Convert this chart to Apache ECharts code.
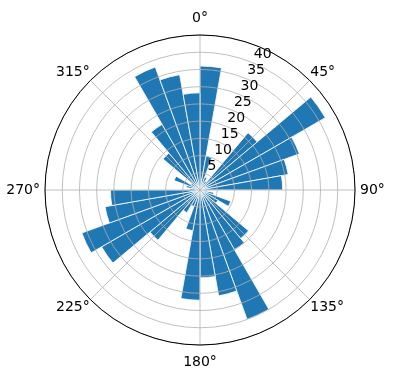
<!DOCTYPE html>
<html>
<head>
<meta charset="utf-8">
<script src="https://cdn.jsdelivr.net/npm/echarts@6/dist/echarts.min.js"></script>
<style>
  html, body { margin: 0; padding: 0; background: #fff; }
  #chart { width: 396px; height: 380px; }
</style>
</head>
<body>
<div id="chart"></div>
<script>
// 36 bins of 10 degrees, starting at north, clockwise
var binLabels = [];
for (var i = 0; i < 36; i++) { binLabels.push(i * 10 + '-' + (i * 10 + 10)); }
var binValues = [
  36, 10, 4, 3, 21.7, 42, 30.7, 26, 24,
  2, 4, 9.5, 6, 18.4, 20, 40, 31.2, 25.5,
  32, 12, 5, 7.6, 19, 33, 36.5, 28, 26,
  3, 4, 8, 3, 14, 22, 38, 34, 28.2
];
var angleTicks = [0, 45, 90, 135, 180, 225, 270, 315];
var radiusTicks = [5, 10, 15, 20, 25, 30, 35, 40];
var rMax = 45;

var FONT = 'DejaVu Sans';
var center = [200, 190];
var radius = 155;

// label style key by direction so every label sits at the same distance
function angleKey(v) {
  if (v === 0) return 'n';
  if (v === 180) return 's';
  if (v === 90) return 'e';
  if (v === 270) return 'w';
  return 'd';
}

var myChart = echarts.init(document.getElementById('chart'));
option = {
  animation: false,
  polar: [
    { center: center, radius: radius },  // bars
    { center: center, radius: radius },  // grid + angle labels
    { center: center, radius: radius }   // radius labels
  ],
  angleAxis: [
    {
      polarIndex: 0, type: 'category', data: binLabels,
      startAngle: 90, clockwise: true, boundaryGap: true, show: false
    },
    {
      polarIndex: 1, type: 'value', min: 0, max: 360, interval: 45,
      startAngle: 90, clockwise: true, z: 5,
      axisLine: { show: true, lineStyle: { color: '#000', width: 1 } },
      axisTick: { show: false },
      axisLabel: {
        show: true, margin: 1, color: '#000', fontFamily: FONT, fontSize: 14,
        align: 'center', verticalAlign: 'middle',
        formatter: function (v) {
          if (angleTicks.indexOf(v) < 0) return '';
          return '{' + angleKey(v) + '|' + v + '°}';
        },
        rich: {
          n: { fontFamily: FONT, fontSize: 14, color: '#000', padding: [0, 0, 9, 0] },
          s: { fontFamily: FONT, fontSize: 14, color: '#000', padding: [9, 0, 0, 0] },
          e: { fontFamily: FONT, fontSize: 14, color: '#000', padding: [0, 0, 0, 4] },
          w: { fontFamily: FONT, fontSize: 14, color: '#000', padding: [0, 4, 0, 0] },
          d: { fontFamily: FONT, fontSize: 14, color: '#000' }
        }
      },
      splitLine: { show: true, lineStyle: { color: '#b0b0b0', width: 0.8 } }
    },
    {
      polarIndex: 2, type: 'value', min: 0, max: 360,
      startAngle: 67.5, show: false
    }
  ],
  radiusAxis: [
    { polarIndex: 0, type: 'value', min: 0, max: rMax, show: false },
    {
      polarIndex: 1, type: 'value', min: 0, max: rMax, interval: 5, z: 5,
      axisLine: { show: false }, axisTick: { show: false }, axisLabel: { show: false },
      splitLine: { show: true, lineStyle: { color: '#b0b0b0', width: 0.8 } }
    },
    {
      polarIndex: 2, type: 'value', min: 0, max: rMax, interval: 5, z: 6,
      axisLine: { show: false }, axisTick: { show: false },
      splitLine: { show: false },
      axisLabel: {
        show: true, color: '#000', fontFamily: FONT, fontSize: 14, margin: 0,
        align: 'left', verticalAlign: 'bottom', padding: [0, 0, 1, 1],
        formatter: function (v) { return radiusTicks.indexOf(v) >= 0 ? String(v) : ''; }
      }
    }
  ],
  series: [
    {
      type: 'bar', coordinateSystem: 'polar', polarIndex: 0,
      data: binValues,
      barCategoryGap: '0%',
      itemStyle: { color: '#1f77b4', borderColor: '#ffffff', borderWidth: 0.8 }
    }
  ]
};
myChart.setOption(option);
</script>
</body>
</html>
